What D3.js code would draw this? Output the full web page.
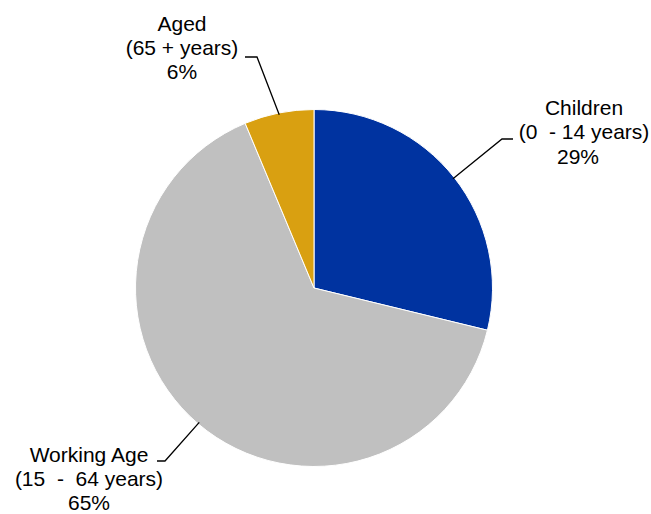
<!DOCTYPE html>
<html><head><meta charset="utf-8">
<script src="https://cdn.jsdelivr.net/npm/d3@7"></script>
<style>html,body{margin:0;padding:0;background:#fff;}</style>
</head><body>
<script>
const categories = ["Children", "Working Age", "Aged"];
const subLabels = ["(0  - 14 years)", "(15  -  64 years)", "(65 + years)"];
const values = [28.8, 64.9, 6.3];
const colors = ["#0033A0", "#C0C0C0", "#D9A011"];

const W = 651, H = 514;
const cx = 314, cy = 288, R = 178.5;

const svg = d3.select("body").append("svg").attr("width", W).attr("height", H);
const data = categories.map((c, i) => ({name: c, sub: subLabels[i], value: values[i], color: colors[i]}));

const pie = d3.pie().value(d => d.value).sort(null);
const arcs = pie(data);
const arc = d3.arc().innerRadius(0).outerRadius(R);

const g = svg.append("g").attr("transform", `translate(${cx},${cy})`);
g.selectAll("path").data(arcs).enter().append("path")
  .attr("d", arc).attr("fill", d => d.data.color)
  .attr("stroke", "#fff").attr("stroke-width", 1);

// label layout: leader line (text side) and text positions
const labelSpec = {
  "Children":    {line: [[513,139],[502,139]], tx: 584, ty: 115, dy: 24.3, dx: [0, 0, -6]},
  "Working Age": {line: [[157,461],[165,461]], tx: 89,  ty: 461.5, dy: 24, dx: [0, 0, 0]},
  "Aged":        {line: [[245,57],[257,57]],   tx: 182, ty: 30.5, dy: 24, dx: [0, 0, 0]}
};

arcs.forEach(a => {
  const s = labelSpec[a.data.name];
  const mid = (a.startAngle + a.endAngle) / 2;
  const ex = cx + Math.sin(mid) * R * 0.99;
  const ey = cy - Math.cos(mid) * R * 0.99;
  const pts = [s.line[0], s.line[1], [ex, ey]];
  svg.append("path").attr("d", d3.line()(pts))
    .attr("fill", "none").attr("stroke", "#000").attr("stroke-width", 1.3);
  const t = svg.append("text").attr("text-anchor", "middle")
    .attr("font-family", "Arial, 'Liberation Sans', sans-serif")
    .attr("font-size", 21).attr("fill", "#000")
    .style("white-space", "pre");
  const lines = [a.data.name, a.data.sub, Math.round(a.data.value) + "%"];
  lines.forEach((l, i) => {
    t.append("tspan").attr("x", s.tx + s.dx[i]).attr("y", s.ty + i * s.dy).text(l);
  });
});
</script>
</body></html>
